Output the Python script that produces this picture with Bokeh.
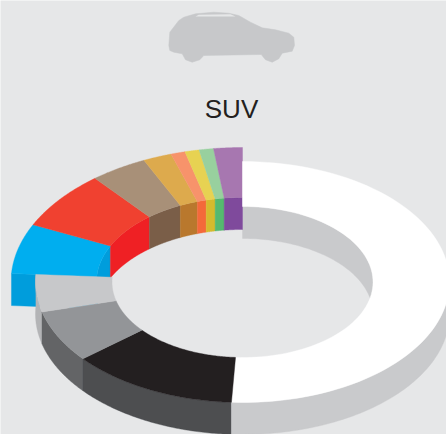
import numpy as np
from bokeh.plotting import figure
from bokeh.models import Range1d
from bokeh.core.properties import value
from bokeh.embed import file_html
from bokeh.resources import INLINE

title = "SUV"
categories = ["white", "black", "gray", "silver", "blue", "red", "brown",
              "gold", "orange", "yellow", "green", "purple"]
shares = [50.85, 13.15, 7, 5, 6, 7, 4, 2, 1, 1, 1, 2]
top_colors = ["#ffffff", "#231f20", "#939598", "#c7c8ca", "#00aeef", "#f04130",
              "#a89078", "#ddaa4d", "#f7936b", "#e7d252", "#98d09e", "#a777b0"]
wall_colors = ["#c9cacc", "#4d4e50", "#636466", "#b3b4b6", "#009ddc", "#ef2024",
               "#7a5e48", "#b9782d", "#f4693a", "#d5bb2d", "#55b96f", "#7f4a9c"]
enlarged = [False, False, False, False, True, True, True, True, True, True, True, True]

BG = "#e6e7e8"
CX, CY, DEPTH = 242.0, 281.5, 32.0
# (rx, ry) of the ring's ellipses
BASE_OUT, BASE_IN = (207.0, 120.5), (130.5, 75.5)
BIG_OUT, BIG_IN = (231.5, 134.5), (146.0, 84.5)

# Car icon outline in the page's pixel space
car_x = [168.3, 169.3, 178.3, 183.3, 195, 213.3, 228.3, 238.3, 250, 261.7, 275, 288.3, 293.3,
         294, 291.7, 281.7, 278.3, 271.7, 265, 260.7, 203.3, 199.3, 191.7, 185, 181.7, 173.3, 169.3]
car_y = [45, 31.7, 20, 16.7, 13.3, 11.7, 12.7, 15, 21.7, 27.3, 29.3, 32.7, 36.7,
         45, 50.7, 52.7, 58.3, 61.7, 59.3, 54, 55, 59.3, 61.7, 59.3, 53.3, 51.7, 50]
glass_x = [195, 198.3, 230, 235]
glass_y = [16, 14.3, 13.7, 16]


def arc(t0, t1, radii, dy=0.0):
    t = np.radians(np.linspace(t0, t1, 80))
    return CX + radii[0] * np.sin(t), CY + dy - radii[1] * np.cos(t)


def face(t0, t1, out, inn):
    xo, yo = arc(t0, t1, out)
    xi, yi = arc(t1, t0, inn)
    return np.r_[xo, xi], np.r_[yo, yi]


def band(t0, t1, radii):
    xa, ya = arc(t0, t1, radii)
    xb, yb = arc(t1, t0, radii, DEPTH)
    return np.r_[xa, xb], np.r_[ya, yb]


p = figure(width=446, height=434, output_backend="svg", toolbar_location=None,
           x_range=Range1d(0, 446), y_range=Range1d(434, 0),
           min_border=0, background_fill_color=BG, border_fill_color=BG,
           outline_line_color=None)
p.axis.visible = False
p.grid.visible = False
p.xaxis.visible = False
p.yaxis.visible = False


def poly(xy, color):
    p.patch(xy[0], xy[1], fill_color=color, line_color=color, line_width=0.4)


edges = np.r_[0, np.cumsum(shares)] * 3.6
spans = list(zip(edges[:-1], edges[1:]))

# far inner wall of the base ring
poly(band(0, 90, BASE_IN), wall_colors[0])

# enlarged slices: walls first, then tops
for i in range(len(shares)):
    if enlarged[i]:
        t0, t1 = spans[i]
        poly(band(t0, t1, BIG_IN), wall_colors[i])
first = enlarged.index(True)
t0 = spans[first][0]
xo, yo = arc(t0, t0, BIG_OUT)
xi, yi = arc(t0, t0, BIG_IN)
p.patch([xo[0], xi[0], xi[0], xo[0]], [yo[0], yi[0], yi[0] + DEPTH, yo[0] + DEPTH],
        fill_color=wall_colors[first], line_color=wall_colors[first], line_width=0.4)
for i in range(len(shares)):
    if enlarged[i]:
        t0, t1 = spans[i]
        poly(face(t0, t1, BIG_OUT, BIG_IN), top_colors[i])

# base ring: outer walls back to front, then tops
outer_walls = [(max(spans[i][0], 90), spans[i][1], wall_colors[i])
               for i in range(len(shares)) if not enlarged[i]]
for t0, t1, c in reversed(outer_walls):
    poly(band(t0, t1, BASE_OUT), c)
for i in range(len(shares)):
    if not enlarged[i]:
        t0, t1 = spans[i]
        poly(face(t0, t1, BASE_OUT, BASE_IN), top_colors[i])

# car icon and title
p.patch(car_x, car_y, fill_color="#c7c8ca", line_color="#c7c8ca", line_width=0.5)
p.patch(glass_x, glass_y, fill_color=BG, line_color=None)
p.text([231], [108], text=[title], text_font=value("Liberation Sans"), text_font_size="26px",
       text_color="#231f20", text_align="center", text_baseline="alphabetic")

open("out.html", "w").write(file_html(p, INLINE))
